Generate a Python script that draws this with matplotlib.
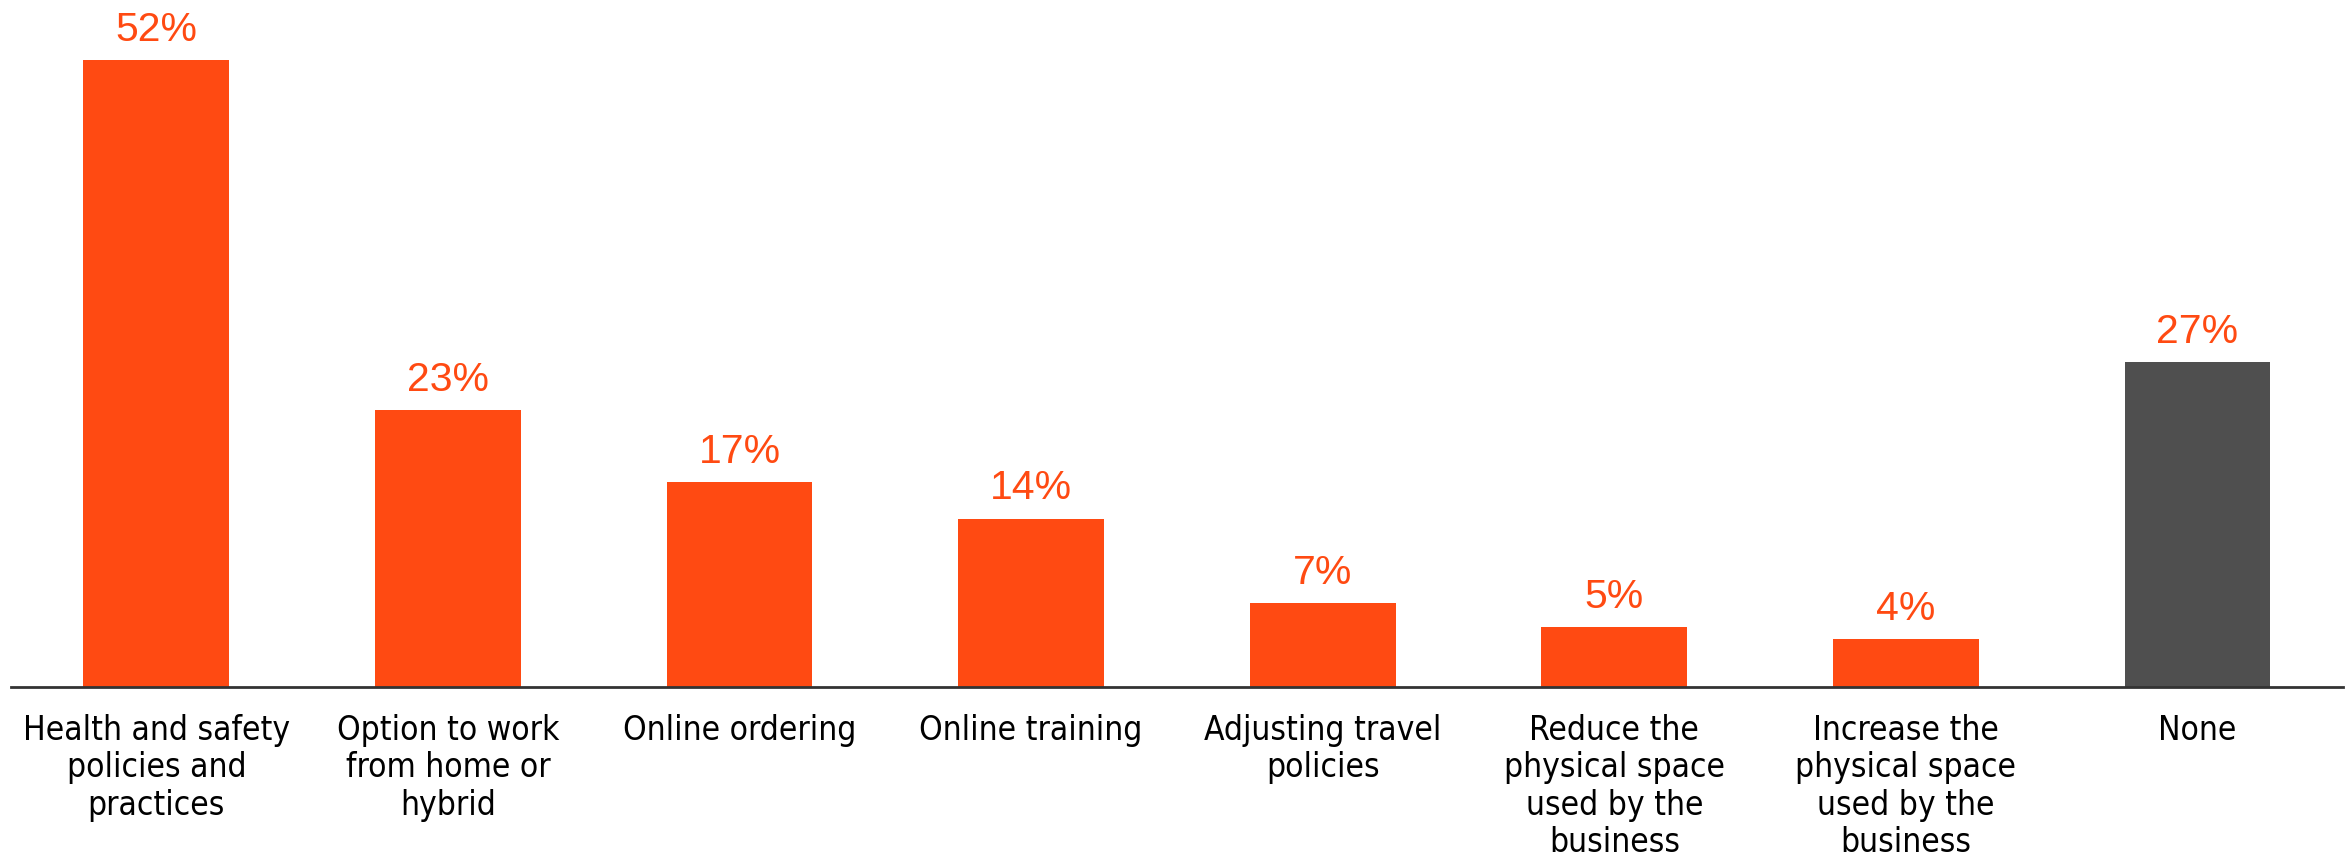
import matplotlib
matplotlib.use("Agg")
import matplotlib.pyplot as plt

categories = [
    "Health and safety\npolicies and\npractices",
    "Option to work\nfrom home or\nhybrid",
    "Online ordering",
    "Online training",
    "Adjusting travel\npolicies",
    "Reduce the\nphysical space\nused by the\nbusiness",
    "Increase the\nphysical space\nused by the\nbusiness",
    "None",
]
values = [52, 23, 17, 14, 7, 5, 4, 27]
value_labels = ["52%", "23%", "17%", "14%", "7%", "5%", "4%", "27%"]

orange = "#FF4A12"
grey = "#4F4F4F"
colors = [orange] * 7 + [grey]

fig = plt.figure(figsize=(23.48, 8.55), dpi=100)
ax = fig.add_axes([0.0045, 0.196, 0.9935, 0.804])

x = range(len(values))
bars = ax.bar(x, values, width=0.5, color=colors)

# percentage labels above each bar
for rect, lab in zip(bars, value_labels):
    ax.annotate(lab, (rect.get_x() + rect.get_width() / 2, rect.get_height()),
                xytext=(0, 8), textcoords="offset points",
                ha="center", va="bottom", fontsize=29.5, color=orange,
                family=["Liberation Sans", "DejaVu Sans"])

ax.set_xlim(-0.5, len(values) - 0.5)
ax.set_ylim(0, 57)
ax.set_xticks(list(x))
ax.set_xticklabels(categories, fontsize=24, linespacing=1.17,
                   family="DejaVu Sans", fontstretch="condensed")
ax.tick_params(axis="x", length=0, pad=19)
ax.set_yticks([])

for side in ["top", "left", "right"]:
    ax.spines[side].set_visible(False)
ax.spines["bottom"].set_color("#333333")
ax.spines["bottom"].set_linewidth(2)

fig.savefig("out.png", dpi=100)
